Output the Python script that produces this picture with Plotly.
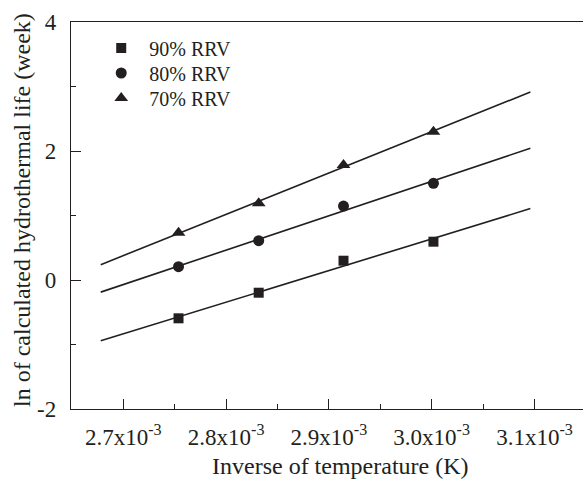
import numpy as np
import plotly.graph_objects as go

# Data
inv_temp = [2.7537e-3, 2.8317e-3, 2.9142e-3, 3.0017e-3]   # 1/T (1/K)
ln_life_90 = [-0.594, -0.197, 0.299, 0.594]
ln_life_80 = [0.206, 0.609, 1.147, 1.499]
ln_life_70 = [0.733, 1.189, 1.783, 2.299]
series_names = ["90% RRV", "80% RRV", "70% RRV"]
fit_x_range = [2.678e-3, 3.096e-3]
x_tick_vals = [2.7e-3, 2.8e-3, 2.9e-3, 3.0e-3, 3.1e-3]
x_tick_text = ["2.7x10<sup>-3</sup>", "2.8x10<sup>-3</sup>", "2.9x10<sup>-3</sup>",
               "3.0x10<sup>-3</sup>", "3.1x10<sup>-3</sup>"]
y_tick_vals = [-2, 0, 2, 4]
y_tick_text = ["-2", "0", "2", "4"]

INK = "#231f20"
FONT = "Liberation Serif"
symbols = ["square", "circle", "triangle-up"]
sizes = [10, 11, 12]
legend_ids = ["legend", "legend2", "legend3"]
legend_rows_px = [48, 73, 98]   # vertical centre of each legend row (px from top)

fig = go.Figure()
xs = np.array(inv_temp)
fx = np.array(fit_x_range)
all_series = [ln_life_90, ln_life_80, ln_life_70]
for ys in all_series:
    k, b = np.polyfit(xs, np.array(ys), 1)
    fig.add_trace(go.Scatter(x=fx, y=k * fx + b, mode="lines",
                             line=dict(color=INK, width=1.6), showlegend=False, hoverinfo="skip"))
for name, ys, sym, sz, lg in zip(series_names, all_series, symbols, sizes, legend_ids):
    fig.add_trace(go.Scatter(x=inv_temp, y=ys, mode="markers", name=name, legend=lg,
                             marker=dict(symbol=sym, size=sz, color=INK)))

PLOT_TOP, PLOT_BOTTOM = 22, 409
leg_common = dict(x=0.0434, xanchor="left", yanchor="middle", bgcolor="rgba(0,0,0,0)",
                  font=dict(family=FONT, size=20, color=INK), itemwidth=46)
legends = {}
for lg, py in zip(legend_ids, legend_rows_px):
    legends[lg] = dict(leg_common, y=(PLOT_BOTTOM - py) / (PLOT_BOTTOM - PLOT_TOP))

fig.update_layout(
    width=583, height=481,
    margin=dict(l=71, r=0, t=22, b=72),
    paper_bgcolor="white", plot_bgcolor="white",
    font=dict(family=FONT, size=20, color=INK),
    showlegend=True,
    **legends,
)
fig.update_xaxes(range=[2.6491e-3, 3.1472e-3], showgrid=False, zeroline=False,
                 showline=True, linecolor=INK, linewidth=1.3, mirror=True,
                 ticks="inside", ticklen=10, tickwidth=1.3, tickcolor=INK,
                 tickvals=x_tick_vals, ticktext=x_tick_text,
                 minor=dict(ticks="inside", ticklen=5, tickwidth=1.3, tickcolor=INK,
                            dtick=0.05e-3, tick0=2.65e-3, showgrid=False),
                 tickfont=dict(family=FONT, size=23, color=INK), ticklabelstandoff=7)
fig.update_yaxes(range=[-2, 4], showgrid=False, zeroline=False,
                 showline=True, linecolor=INK, linewidth=1.3, mirror=True,
                 ticks="inside", ticklen=10, tickwidth=1.3, tickcolor=INK,
                 tickvals=y_tick_vals, ticktext=y_tick_text,
                 minor=dict(ticks="inside", ticklen=5, tickwidth=1.3, tickcolor=INK,
                            dtick=1, tick0=-1, showgrid=False),
                 tickfont=dict(family=FONT, size=23, color=INK), ticklabelstandoff=9)

fig.add_annotation(text="Inverse of temperature (K)", xref="paper", yref="paper",
                   x=(340 - 71) / 512, y=-(466 - 409) / 387, xanchor="center", yanchor="middle",
                   showarrow=False, font=dict(size=24, family=FONT, color=INK))
fig.add_annotation(text="ln of calculated hydrothermal life (week)", xref="paper", yref="paper",
                   x=-(71 - 22) / 512, y=(409 - 210) / 387, xanchor="center", yanchor="middle",
                   textangle=-90, showarrow=False, font=dict(size=24, family=FONT, color=INK))

fig.write_html("out.html")
